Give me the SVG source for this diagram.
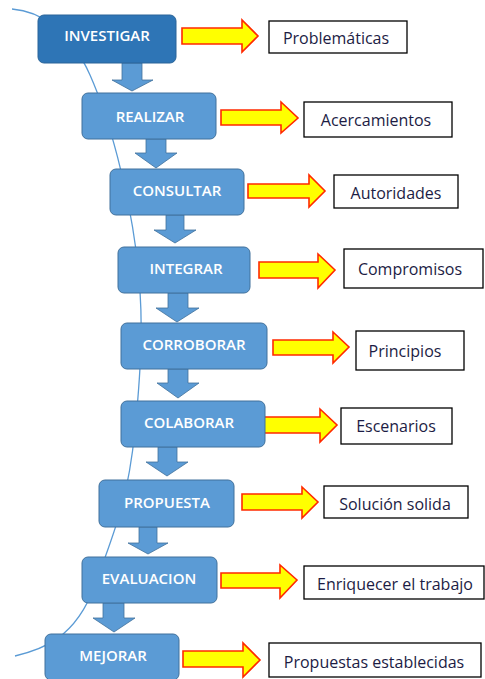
<svg xmlns="http://www.w3.org/2000/svg" width="485" height="679" viewBox="0 0 485 679">
<style>
.bg{fill:#ffffff}
.curve{fill:none;stroke:#5b9bd5;stroke-width:1.3}
.box{fill:#5b9bd5;stroke:#41719c;stroke-width:1}
.box.dark{fill:#2e75b6;stroke:#2a6499}
.down{fill:#5b9bd5;stroke:#41719c;stroke-width:0.8}
.ya{fill:#ffff00;stroke:#ff2a00;stroke-width:1.6;stroke-linejoin:miter}
.lbl{fill:#ffffff;stroke:#000000;stroke-width:1.3}
.t{font-family:"Open Sans","Noto Sans","DejaVu Sans",sans-serif;font-size:15px;font-weight:600;fill:#ffffff;text-anchor:middle;dominant-baseline:central}
.lt{font-family:"Open Sans","Noto Sans","DejaVu Sans",sans-serif;font-size:16px;fill:#1c1c44;text-anchor:middle;dominant-baseline:central}
</style>
<rect class="bg" x="0" y="0" width="485" height="679"/>
<path class="curve" d="M12,9 C40,11 70,30 90,75 S128,190 136,250 S142,360 135,430 S115,530 95,585 S40,650 15,656"/>
<g id="connectors">
  <polygon class="down" points="122,63 142,63 142,80 153,80 132,91 112,80 122,80"/>
  <polygon class="down" points="146,139 166,139 166,153 177,153 156,168 135,153 146,153"/>
  <polygon class="down" points="166,215 184,215 184,230 196,230 175,243 154,230 166,230"/>
  <polygon class="down" points="168,293 188,293 188,308 199,308 177,322 156,308 168,308"/>
  <polygon class="down" points="168,369 188,369 188,383 199,383 178,398 157,383 168,383"/>
  <polygon class="down" points="158,447 177,447 177,462 188,462 167,476 146,462 158,462"/>
  <polygon class="down" points="139,527 157,527 157,543 168,543 148,554 128,543 139,543"/>
  <polygon class="down" points="103,603 124,603 124,618 135,618 114,632 93,618 103,618"/>
  <polygon class="ya" points="182,28 242,28 242,20 258,36 242,52 242,44 182,44"/>
  <polygon class="ya" points="221,110 281,110 281,102 298,118 281,133 281,125 221,125"/>
  <polygon class="ya" points="248,184 309,184 309,175 325,191 309,207 309,198 248,198"/>
  <polygon class="ya" points="259,262 318,262 318,254 335,270 318,288 318,278 259,278"/>
  <polygon class="ya" points="273,340 333,340 333,332 349,347 333,363 333,355 273,355"/>
  <polygon class="ya" points="260,417 320,417 320,409 337,425 320,442 320,433 260,433"/>
  <polygon class="ya" points="242,494 302,494 302,487 318,502 302,518 302,510 242,510"/>
  <polygon class="ya" points="221,573 280,573 280,565 297,580 280,598 280,588 221,588"/>
  <polygon class="ya" points="183,651 243,651 243,643 260,660 243,677 243,667 183,667"/>
</g>
<g id="n-investigar"><rect class="box dark" x="38" y="15" width="138" height="48" rx="6"/><text class="t" x="107" y="35">INVESTIGAR</text></g>
<g id="n-realizar"><rect class="box" x="82" y="93" width="134" height="46" rx="6"/><text class="t" x="150" y="116">REALIZAR</text></g>
<g id="n-consultar"><rect class="box" x="110" y="169" width="134" height="46" rx="6"/><text class="t" x="177" y="190">CONSULTAR</text></g>
<g id="n-integrar"><rect class="box" x="118" y="247" width="132" height="46" rx="6"/><text class="t" x="186" y="268">INTEGRAR</text></g>
<g id="n-corroborar"><rect class="box" x="121" y="323" width="146" height="46" rx="6"/><text class="t" x="194" y="344">CORROBORAR</text></g>
<g id="n-colaborar"><rect class="box" x="121" y="401" width="144" height="46" rx="6"/><text class="t" x="189" y="422">COLABORAR</text></g>
<g id="n-propuesta"><rect class="box" x="99" y="480" width="135" height="47" rx="6"/><text class="t" x="167" y="502">PROPUESTA</text></g>
<g id="n-evaluacion"><rect class="box" x="82" y="557" width="135" height="46" rx="6"/><text class="t" x="149" y="578">EVALUACION</text></g>
<g id="n-mejorar"><rect class="box" x="45" y="634" width="134" height="46" rx="6"/><text class="t" x="113" y="655">MEJORAR</text></g>
<g id="l-problematicas"><rect class="lbl" x="269" y="21" width="138" height="32"/><text class="lt" x="336" y="38">Problemáticas</text></g>
<g id="l-acercamientos"><rect class="lbl" x="304" y="102" width="148" height="35"/><text class="lt" x="376" y="120">Acercamientos</text></g>
<g id="l-autoridades"><rect class="lbl" x="334" y="175" width="124" height="33"/><text class="lt" x="396" y="193">Autoridades</text></g>
<g id="l-compromisos"><rect class="lbl" x="344" y="249" width="139" height="39"/><text class="lt" x="410" y="269">Compromisos</text></g>
<g id="l-principios"><rect class="lbl" x="356" y="331" width="108" height="39"/><text class="lt" x="405" y="351">Principios</text></g>
<g id="l-escenarios"><rect class="lbl" x="341" y="408" width="111" height="36"/><text class="lt" x="396" y="426">Escenarios</text></g>
<g id="l-solucion"><rect class="lbl" x="324" y="486" width="144" height="32"/><text class="lt" x="395" y="504">Solución solida</text></g>
<g id="l-enriquecer"><rect class="lbl" x="304" y="566" width="180" height="33"/><text class="lt" x="395" y="584">Enriquecer el trabajo</text></g>
<g id="l-propuestas"><rect class="lbl" x="269" y="643" width="212" height="34"/><text class="lt" x="374" y="662">Propuestas establecidas</text></g>
</svg>
